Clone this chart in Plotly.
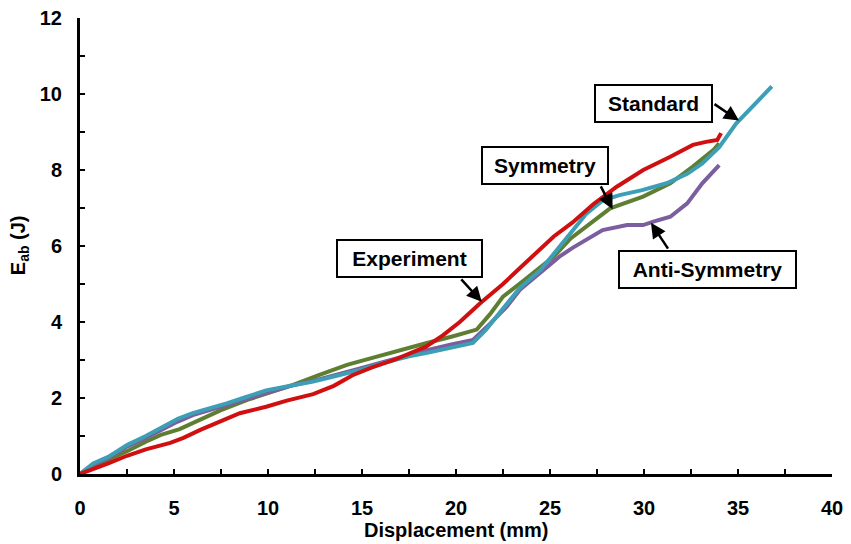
import plotly.graph_objects as go

# ---- data ----
exp_x = [0, 0.7, 1.5, 2.5, 3.5, 4.8, 5.5, 6.4, 7.5, 8.5, 9.9, 11.0, 12.4, 13.5, 14.5, 15.5, 16.7, 17.5, 18.4, 19.3, 20.2, 21.3, 22.5, 23.4, 24.3, 25.2, 26.2, 27.3, 28.55, 29.96, 31.4, 32.6, 33.3, 33.9, 34.1]
exp_y = [0, 0.12, 0.28, 0.48, 0.65, 0.82, 0.95, 1.16, 1.38, 1.6, 1.77, 1.93, 2.1, 2.32, 2.6, 2.8, 3.0, 3.17, 3.35, 3.65, 4.0, 4.5, 5.0, 5.42, 5.85, 6.25, 6.62, 7.1, 7.56, 8.0, 8.35, 8.66, 8.74, 8.79, 8.97]

std_x = [0, 0.7, 1.5, 2.5, 3.5, 4.3, 5.2, 6.0, 7.0, 7.8, 8.8, 9.9, 11.2, 12.4, 13.6, 14.9, 15.8, 16.7, 17.5, 18.4, 19.7, 20.9, 21.6, 22.3, 23.4, 24.5, 25.4, 26.1, 26.95, 27.8, 28.7, 29.9, 31.2, 32.3, 33.1, 34.0, 34.9, 35.8, 36.8]
std_y = [0, 0.28, 0.45, 0.76, 1.0, 1.2, 1.45, 1.6, 1.73, 1.86, 2.02, 2.2, 2.32, 2.43, 2.58, 2.74, 2.88, 3.0, 3.1, 3.18, 3.32, 3.45, 3.8, 4.24, 4.9, 5.37, 5.9, 6.34, 6.86, 7.2, 7.34, 7.47, 7.65, 7.9, 8.17, 8.6, 9.22, 9.67, 10.2]

sym_x = [0, 0.7, 1.5, 2.5, 3.5, 4.3, 5.3, 6.4, 7.5, 8.9, 10.0, 11.3, 12.7, 14.2, 15.5, 16.7, 17.5, 18.4, 19.8, 21.1, 21.8, 22.5, 23.5, 24.3, 25.2, 26.1, 26.9, 28.2, 29.95, 31.4, 32.6, 33.7, 34.0]
sym_y = [0, 0.22, 0.38, 0.6, 0.85, 1.03, 1.18, 1.42, 1.68, 1.95, 2.12, 2.34, 2.6, 2.87, 3.05, 3.22, 3.32, 3.44, 3.62, 3.8, 4.2, 4.67, 5.05, 5.38, 5.72, 6.2, 6.5, 6.99, 7.3, 7.65, 8.09, 8.53, 8.7]

anti_x = [0, 0.7, 1.5, 2.5, 3.5, 4.3, 5.2, 6.0, 7.0, 8.0, 9.0, 10.0, 11.2, 12.4, 13.6, 14.9, 16.0, 17.2, 18.4, 19.7, 20.9, 21.8, 22.7, 23.4, 24.5, 25.5, 26.2, 26.9, 27.8, 29.1, 29.95, 30.5, 31.4, 32.3, 33.1, 34.0]
anti_y = [0, 0.25, 0.42, 0.72, 0.95, 1.15, 1.38, 1.55, 1.7, 1.86, 2.0, 2.15, 2.32, 2.45, 2.6, 2.78, 2.93, 3.1, 3.25, 3.4, 3.53, 3.95, 4.4, 4.85, 5.3, 5.72, 5.95, 6.15, 6.42, 6.55, 6.55, 6.64, 6.77, 7.12, 7.65, 8.13]

series_names = ["Symmetry", "Anti-Symmetry", "Standard", "Experiment"]
series_colors = ["#5E7F32", "#7A5E9E", "#3C9FB6", "#D01010"]

# label boxes: text, centre x, centre y, arrow tail (x,y), arrow head (x,y)
labels = ["Experiment", "Symmetry", "Standard", "Anti-Symmetry"]
label_cx = [17.53, 24.73, 30.5, 33.38]
label_cy = [5.68, 8.12, 9.75, 5.39]
label_w = [143, 124, 115, 175]
arrow_tx = [20.21, 27.66, 33.67, 31.33]
arrow_ty = [5.16, 7.61, 9.76, 5.89]
arrow_hx = [21.37, 28.33, 35.05, 30.37]
arrow_hy = [4.53, 6.97, 9.30, 6.61]

x_title = "Displacement (mm)"
y_title = "E<sub>ab</sub> (J)"

FONT = "Liberation Sans, Arial, sans-serif"

fig = go.Figure()
xs = [sym_x, anti_x, std_x, exp_x]
ys = [sym_y, anti_y, std_y, exp_y]
for name, col, x, y in zip(series_names, series_colors, xs, ys):
    fig.add_trace(go.Scatter(x=x, y=y, mode="lines", name=name,
                             line=dict(color=col, width=4), showlegend=False))

annotations = []
for i in range(len(labels)):
    annotations.append(dict(x=arrow_hx[i], y=arrow_hy[i], ax=arrow_tx[i], ay=arrow_ty[i],
                            xref="x", yref="y", axref="x", ayref="y", text="",
                            showarrow=True, arrowhead=2, arrowsize=1.2, arrowwidth=2.5,
                            arrowcolor="black"))
for i in range(len(labels)):
    annotations.append(dict(x=label_cx[i], y=label_cy[i], xref="x", yref="y",
                            text="<b>%s</b>" % labels[i], showarrow=False,
                            font=dict(family=FONT, size=21, color="black"),
                            bgcolor="white", bordercolor="black", borderwidth=2,
                            borderpad=0, width=label_w[i], height=35,
                            xanchor="center", yanchor="middle"))
# axis titles placed as paper annotations
annotations.append(dict(x=0.5, y=-0.1228, xref="paper", yref="paper",
                        text="<b>%s</b>" % x_title, showarrow=False,
                        font=dict(family=FONT, size=20, color="black"),
                        xanchor="center", yanchor="middle"))
annotations.append(dict(x=-0.081, y=0.502, xref="paper", yref="paper",
                        text="<b>%s</b>" % y_title, showarrow=False, textangle=-90,
                        font=dict(family=FONT, size=20, color="black"),
                        xanchor="center", yanchor="middle"))

# page has an 8px body margin, so the figure is offset by it
fig.update_layout(
    width=835, height=536,
    margin=dict(l=72, r=11, t=10, b=70),
    paper_bgcolor="white", plot_bgcolor="white",
    font=dict(family=FONT, size=19, color="black"),
    annotations=annotations,
    xaxis=dict(range=[0, 40], dtick=5, tick0=0, showgrid=False, zeroline=False,
               automargin=False, ticklabeloverflow="allow",
               showline=True, linecolor="black", linewidth=3,
               ticks="inside", ticklen=5, tickwidth=2, tickcolor="black",
               minor=dict(dtick=2.5, ticks="inside", ticklen=5, tickwidth=2, tickcolor="black"),
               tickfont=dict(family=FONT, size=20, color="black", weight="bold"),
               ticklabelstandoff=14),
    yaxis=dict(range=[0, 12], dtick=2, tick0=0, showgrid=False, zeroline=False,
               automargin=False, ticklabeloverflow="allow",
               showline=True, linecolor="black", linewidth=3,
               ticks="inside", ticklen=5, tickwidth=2, tickcolor="black",
               minor=dict(dtick=1, ticks="inside", ticklen=5, tickwidth=2, tickcolor="black"),
               tickfont=dict(family=FONT, size=20, color="black", weight="bold"),
               ticklabelstandoff=11),
)

fig.write_html("out.html")
